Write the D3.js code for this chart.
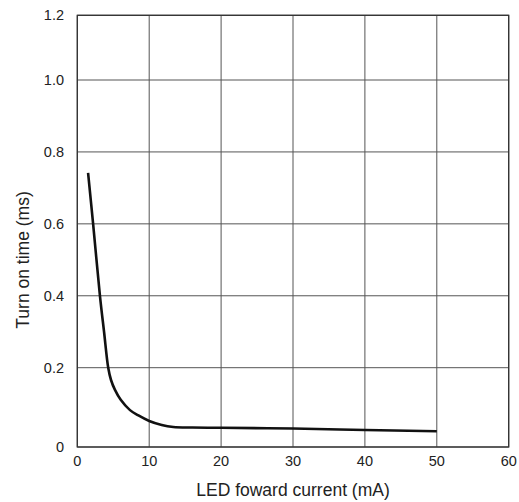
<!DOCTYPE html>
<html>
<head>
<meta charset="utf-8">
<script src="https://cdn.jsdelivr.net/npm/d3@7"></script>
<style>
  html, body { margin: 0; padding: 0; background: #fff; }
  text { font-family: "Liberation Sans", Arial, sans-serif; fill: #222; }
</style>
</head>
<body>
<div id="chart"></div>
<script>
// LED forward current (mA) vs turn on time (ms)
const current = [1.5, 2.2, 3.15, 3.72, 4.3, 4.69, 5.24, 6.04, 7.33, 8.5, 10, 11.74, 13.35, 16, 20, 30, 40, 50];
const turnOn  = [0.742, 0.6, 0.4, 0.3, 0.2, 0.169, 0.144, 0.119, 0.093, 0.0795, 0.0656, 0.0555, 0.0504, 0.049, 0.0485, 0.0465, 0.043, 0.0398];

const xTicks = [0, 10, 20, 30, 40, 50, 60];
const yTicks = [0, 0.2, 0.4, 0.6, 0.8, 1.0, 1.2];

const width = 519, height = 502;

const svg = d3.select("#chart").append("svg")
    .attr("width", width)
    .attr("height", height);

let x = d3.scaleLinear()
    .domain([0, 60])
    .range([77.3, 508.7]);

// the original grid is not evenly spaced: bottom band taller than the rest
let y = d3.scaleLinear()
    .domain([0, 0.2, 1.0, 1.2])
    .range([447, 367.7, 80, 15.3]);

// grid
svg.append("g")
    .selectAll("line.vgrid")
    .data(xTicks)
    .enter().append("line")
    .attr("x1", d => x(d)).attr("x2", d => x(d))
    .attr("y1", y(1.2)).attr("y2", y(0))
    .style("stroke", "#555")
    .style("stroke-width", 1);

svg.append("g")
    .selectAll("line.hgrid")
    .data(yTicks)
    .enter().append("line")
    .attr("x1", x(0)).attr("x2", x(60))
    .attr("y1", d => y(d)).attr("y2", d => y(d))
    .style("stroke", "#555")
    .style("stroke-width", 1);

// frame
svg.append("rect")
    .attr("x", x(0)).attr("y", y(1.2))
    .attr("width", x(60) - x(0))
    .attr("height", y(0) - y(1.2))
    .style("fill", "none")
    .style("stroke", "#333")
    .style("stroke-width", 1.3);

// tick labels
svg.append("g")
    .selectAll("text")
    .data(xTicks)
    .enter().append("text")
    .attr("x", d => x(d))
    .attr("y", 466)
    .attr("text-anchor", "middle")
    .attr("font-size", 14.5)
    .text(d => d);

svg.append("g")
    .selectAll("text")
    .data(yTicks)
    .enter().append("text")
    .attr("x", 64)
    .attr("y", d => y(d) + 5)
    .attr("text-anchor", "end")
    .attr("font-size", 14.5)
    .text(d => d === 0 ? "0" : d3.format(".1f")(d));

// axis titles
svg.append("text")
    .attr("x", (x(0) + x(60)) / 2)
    .attr("y", 496)
    .attr("text-anchor", "middle")
    .attr("font-size", 17.5)
    .text("LED foward current (mA)");

svg.append("text")
    .attr("transform", "translate(29," + 260 + ") rotate(-90)")
    .attr("text-anchor", "middle")
    .attr("font-size", 17.5)
    .text("Turn on time (ms)");

// curve
const pts = current.map((c, i) => [c, turnOn[i]]);

svg.append("path")
    .datum(pts)
    .attr("d", d3.line()
        .x(d => x(d[0]))
        .y(d => y(d[1]))
        .curve(d3.curveCatmullRom.alpha(0.5)))
    .style("fill", "none")
    .style("stroke", "#111")
    .style("stroke-width", 2.6);
</script>
</body>
</html>
